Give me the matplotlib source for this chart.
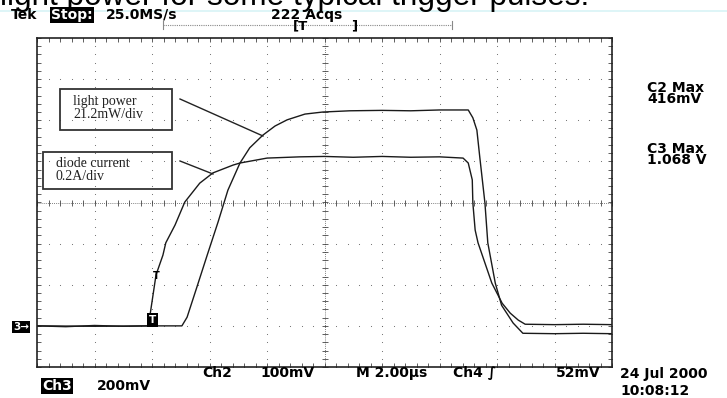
import matplotlib.pyplot as plt
import numpy as np
from matplotlib.patches import Rectangle
from matplotlib.lines import Line2D

# Trace readings (time in divisions 0-10, level in divisions -4..4)
t_diode = [0, 0.5, 1.0, 1.5, 1.93, 1.96, 2.07, 2.19, 2.24, 2.40, 2.57, 2.83, 3.06, 3.41, 3.53,
           4.0, 4.57, 5.0, 5.5, 6.0, 6.5, 7.0, 7.41, 7.50, 7.57, 7.58, 7.62, 7.67, 7.79, 7.91,
           8.09, 8.23, 8.37, 8.49, 9.0, 9.5, 10.0]
v_diode = [-3.0, -3.02, -2.99, -3.01, -3.0, -2.79, -1.76, -1.28, -0.98, -0.55, 0.01, 0.47, 0.72,
           0.91, 0.96, 1.08, 1.11, 1.12, 1.10, 1.12, 1.10, 1.11, 1.08, 0.96, 0.55, -0.01, -0.67,
           -0.98, -1.47, -1.96, -2.45, -2.69, -2.86, -2.96, -2.97, -2.96, -2.97]

t_light = [0, 1.0, 2.0, 2.52, 2.61, 2.78, 2.96, 3.15, 3.32, 3.53, 3.70, 3.93, 4.14, 4.35, 4.66,
           4.97, 5.44, 6.0, 6.5, 7.0, 7.39, 7.50, 7.58, 7.65, 7.70, 7.79, 7.84, 7.97, 8.08,
           8.28, 8.45, 9.0, 9.5, 10.0]
v_light = [-3.0, -3.01, -3.0, -3.0, -2.79, -2.06, -1.28, -0.47, 0.30, 0.96, 1.33, 1.64, 1.86,
           2.01, 2.15, 2.20, 2.23, 2.24, 2.23, 2.25, 2.25, 2.25, 2.06, 1.76, 1.11, -0.01, -0.98,
           -1.96, -2.50, -2.93, -3.18, -3.19, -3.18, -3.19]

W, H = 727, 398


def fx(px):
    return px / W


def fy(py):
    return 1 - py / H


fig = plt.figure(figsize=(W / 100, H / 100), dpi=100)
ax = fig.add_axes([fx(37), fy(367), 575 / W, 329 / H])
ax.set_xlim(0, 10)
ax.set_ylim(-4, 4)
ax.set_xticks([])
ax.set_yticks([])
for s in ax.spines.values():
    s.set_linewidth(1.2)
    s.set_color('#222222')

# dotted graticule
fine_x = np.arange(0, 10.01, 0.2)
fine_y = np.arange(-4, 4.01, 0.2)
for gx in range(1, 10):
    if gx != 5:
        ax.scatter(np.full(len(fine_y), gx), fine_y, s=0.6, color='#666666', lw=0)
for gy in range(-3, 4):
    if gy != 0:
        ax.scatter(fine_x, np.full(len(fine_x), gy), s=0.6, color='#666666', lw=0)

# center cross with minor ticks
ax.axhline(0, ls=(0, (1, 1.5)), lw=0.6, color='#555555')
ax.axvline(5, ls=(0, (1, 1.5)), lw=0.6, color='#555555')
ax.plot(fine_x, np.zeros(len(fine_x)), ls='none', marker='|', ms=4, mew=0.6, color='#444444')
ax.plot(np.full(len(fine_y), 5), fine_y, ls='none', marker='_', ms=4, mew=0.6, color='#444444')

# edge ticks
for yy in (-4, 4):
    ax.plot(fine_x, np.full(len(fine_x), yy), ls='none', marker='|', ms=6, mew=0.6, color='#444444')
for xx in (0, 10):
    ax.plot(np.full(len(fine_y), xx), fine_y, ls='none', marker='_', ms=6, mew=0.6, color='#444444')

# traces
ax.plot(t_diode, v_diode, color='#1a1a1a', lw=1.0)
ax.plot(t_light, v_light, color='#1a1a1a', lw=1.0)

# trigger markers on the trace
ax.text(1.95, -2.86, 'T', color='white', fontsize=7.5, fontweight='bold', ha='left', va='center',
        bbox=dict(facecolor='black', edgecolor='none', pad=1.4))
ax.text(2.07, -1.78, 'T', color='black', fontsize=7, fontweight='bold', ha='center', va='center')

# document line cut at the top
fig.text(0, fy(5.5), 'light power for some typical trigger pulses.', fontsize=22.7,
         family='Liberation Sans', va='baseline')
fig.add_artist(Line2D([0, 1], [fy(10.5), fy(10.5)], color='#d8f4f6', lw=1.2))

mono = dict(fontsize=10, fontweight='bold', family='DejaVu Sans', va='baseline')
fig.text(fx(11), fy(19), 'Tek', **mono)
fig.text(fx(51), fy(19), 'Stop:', color='white',
         bbox=dict(facecolor='black', edgecolor='none', pad=1), **mono)
fig.text(fx(106), fy(19), '25.0MS/s', **mono)
fig.text(fx(271), fy(19), '222 Acqs', **mono)

# record position bar
fig.add_artist(Line2D([fx(163), fx(452)], [fy(25), fy(25)], color='#888888', lw=0.8, ls=(0, (1, 1))))
for px in (163, 452):
    fig.add_artist(Line2D([fx(px), fx(px)], [fy(21), fy(29)], color='#888888', lw=0.8))
fig.text(fx(293), fy(26), '[T', fontsize=9.5, fontweight='bold', va='center')
fig.text(fx(351), fy(26), ']', fontsize=9.5, fontweight='bold', va='center')

# ground marker
fig.text(fx(13), fy(327), '3\u2192', color='white', fontsize=7.5, fontweight='bold', va='center',
         bbox=dict(facecolor='black', edgecolor='none', pad=0.8))

# annotation boxes
serif = dict(family='Liberation Serif', fontsize=10, color='#222222', va='baseline')
fig.add_artist(Rectangle((fx(60), fy(130)), 112 / W, 41 / H, fill=False, lw=1.3, ec='#333333'))
fig.text(fx(73), fy(105), 'light power', **serif)
fig.text(fx(73), fy(118), '21.2mW/div', **serif)
fig.add_artist(Line2D([fx(180), fx(263)], [fy(99), fy(136)], color='#222222', lw=1.0))

fig.add_artist(Rectangle((fx(43), fy(189)), 129 / W, 37 / H, fill=False, lw=1.3, ec='#333333'))
fig.text(fx(56), fy(167), 'diode current', **serif)
fig.text(fx(56), fy(180), '0.2A/div', **serif)
fig.add_artist(Line2D([fx(180), fx(213)], [fy(161), fy(174)], color='#222222', lw=1.0))

# right side readouts
fig.text(fx(647), fy(92), 'C2 Max', **mono)
fig.text(fx(647), fy(103), '416mV', **mono)
fig.text(fx(647), fy(153), 'C3 Max', **mono)
fig.text(fx(647), fy(164), '1.068 V', **mono)

# bottom readouts
fig.text(fx(42), fy(390), 'Ch3', color='white',
         bbox=dict(facecolor='black', edgecolor='none', pad=1), **mono)
fig.text(fx(97), fy(390), '200mV', **mono)
fig.text(fx(202), fy(377), 'Ch2', **mono)
fig.text(fx(260), fy(377), '100mV', **mono)
fig.text(fx(356), fy(377), 'M 2.00\u00b5s', **mono)
fig.text(fx(453), fy(377), 'Ch4 \u222b', **mono)
fig.text(fx(556), fy(377), '52mV', **mono)
fig.text(fx(620), fy(378), '24 Jul 2000', **mono)
fig.text(fx(620), fy(395), '10:08:12', **mono)

fig.savefig('out.png', dpi=100)
